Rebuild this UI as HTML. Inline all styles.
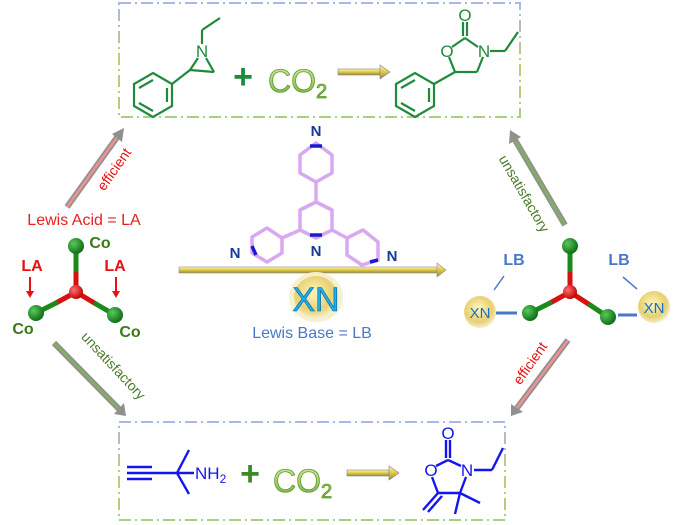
<!DOCTYPE html>
<html><head><meta charset="utf-8"><style>
html,body{margin:0;padding:0;background:#fff;}
svg{display:block;font-family:"Liberation Sans",Arial,sans-serif;}
</style></head><body>
<svg width="693" height="525" viewBox="0 0 693 525" xmlns="http://www.w3.org/2000/svg">
<defs>
<linearGradient id="bx" x1="0" y1="0" x2="0" y2="1"><stop offset="0" stop-color="#a9b6ec"/><stop offset="0.5" stop-color="#c8c878"/><stop offset="1" stop-color="#a8d080"/></linearGradient>
<linearGradient id="ya" x1="0" y1="0" x2="0" y2="1"><stop offset="0" stop-color="#fff8b0"/><stop offset="0.5" stop-color="#e0c840"/><stop offset="1" stop-color="#9a8a30"/></linearGradient>
<radialGradient id="xn" cx="0.45" cy="0.4" r="0.6"><stop offset="0" stop-color="#fff6c0"/><stop offset="0.7" stop-color="#e8d070"/><stop offset="1" stop-color="#f4eecc"/></radialGradient>
<radialGradient id="gb" cx="0.35" cy="0.35" r="0.7"><stop offset="0" stop-color="#5cc85c"/><stop offset="1" stop-color="#0a6a14"/></radialGradient>
<radialGradient id="rb" cx="0.35" cy="0.35" r="0.7"><stop offset="0" stop-color="#ff7070"/><stop offset="1" stop-color="#c00000"/></radialGradient>
<linearGradient id="co" x1="0" y1="0" x2="0" y2="1"><stop offset="0" stop-color="#d8f0a0"/><stop offset="1" stop-color="#6aa830"/></linearGradient>
</defs>

<rect x="119" y="3" width="401" height="114" fill="none" stroke="url(#bx)" stroke-width="2" stroke-dasharray="12,4,2,4"/>
<rect x="119" y="422" width="386" height="98" fill="none" stroke="url(#bx)" stroke-width="2" stroke-dasharray="12,4,2,4"/>

<!-- top reaction -->
<g stroke="#1f8a3c" stroke-width="2.2" fill="none">
<polygon points="153,73 172,84 172,106 153,117 134,106 134,84"/>
<line x1="139" y1="88" x2="153" y2="80"/><line x1="139" y1="103" x2="153" y2="111"/><line x1="167" y1="88" x2="167" y2="102"/>
<line x1="172" y1="84" x2="190" y2="70"/><line x1="190" y1="70" x2="214" y2="72"/>
<line x1="190" y1="70" x2="198" y2="58"/><line x1="214" y1="72" x2="206" y2="58"/>
<line x1="202" y1="44" x2="202" y2="30"/><line x1="202" y1="30" x2="220" y2="18"/>
<line x1="452" y1="47" x2="465" y2="38"/><line x1="465" y1="38" x2="478" y2="47"/>
<line x1="463" y1="36" x2="463" y2="22"/><line x1="467" y1="36" x2="467" y2="22"/>
<line x1="483" y1="57" x2="477" y2="72"/><line x1="477" y1="72" x2="455" y2="72"/><line x1="455" y1="72" x2="449" y2="57"/>
<line x1="490" y1="51" x2="505" y2="51"/><line x1="505" y1="51" x2="518" y2="32"/>
<line x1="455" y1="72" x2="434" y2="84"/>
<polygon points="434,84 434,106 415,117 396,106 396,84 415,73"/>
<line x1="401" y1="88" x2="415" y2="80"/><line x1="401" y1="103" x2="415" y2="111"/><line x1="429" y1="88" x2="429" y2="102"/>
</g>
<g fill="#1f8a3c" font-size="17" text-anchor="middle">
<text x="202" y="57">N</text><text x="447" y="57">O</text><text x="484" y="57">N</text><text x="465" y="21">O</text>
</g>
<text x="243" y="88" font-size="34" font-weight="bold" fill="#1f8a3c" text-anchor="middle">+</text>
<text x="268" y="92" font-size="32" fill="url(#co)" stroke="#5a9a2a" stroke-width="0.8">CO<tspan font-size="20" dy="6">2</tspan></text>
<rect x="338" y="69" width="42" height="6" fill="url(#ya)" stroke="#8080a0" stroke-width="0.6"/>
<polygon points="380,65 390,72 380,79" fill="url(#ya)" stroke="#8080a0" stroke-width="0.6"/>

<!-- bottom reaction -->
<g stroke="#1515f0" stroke-width="2.4" fill="none">
<line x1="127" y1="467" x2="152" y2="467"/><line x1="127" y1="473" x2="152" y2="473"/><line x1="127" y1="479" x2="152" y2="479"/>
<line x1="152" y1="473" x2="194" y2="473"/>
<line x1="177" y1="473" x2="189" y2="450"/><line x1="177" y1="473" x2="189" y2="494"/>
<line x1="436" y1="466" x2="448" y2="460"/><line x1="448" y1="460" x2="461" y2="466"/>
<line x1="446" y1="458" x2="446" y2="440"/><line x1="450" y1="458" x2="450" y2="440"/>
<line x1="474" y1="470" x2="492" y2="470"/><line x1="492" y1="470" x2="503" y2="448"/>
<line x1="466" y1="477" x2="460" y2="493"/><line x1="460" y1="493" x2="438" y2="493"/><line x1="438" y1="493" x2="432" y2="477"/>
<line x1="438" y1="493" x2="423" y2="510"/><line x1="442" y1="496" x2="428" y2="512"/>
<line x1="460" y1="493" x2="480" y2="503"/><line x1="460" y1="493" x2="455" y2="514"/>
</g>
<g fill="#1515f0" font-size="17" text-anchor="middle">
<text x="431" y="476">O</text><text x="467" y="476">N</text><text x="448" y="439">O</text>
</g>
<text x="195" y="479" font-size="17" fill="#1515f0">NH<tspan font-size="12" dy="4">2</tspan></text>
<text x="250" y="485" font-size="34" font-weight="bold" fill="#3a8a2a" text-anchor="middle">+</text>
<text x="273" y="492" font-size="32" fill="url(#co)" stroke="#5a9a2a" stroke-width="0.8">CO<tspan font-size="20" dy="6">2</tspan></text>
<rect x="347" y="470" width="42" height="6" fill="url(#ya)" stroke="#8080a0" stroke-width="0.6"/>
<polygon points="389,466 399,473 389,480" fill="url(#ya)" stroke="#8080a0" stroke-width="0.6"/>

<!-- terpyridine -->
<g stroke="#d8a8f0" stroke-width="3.5" fill="none" stroke-linejoin="round">
<polygon points="316,143 332,155 332,173 316,182 300,173 300,155"/>
<line x1="316" y1="182" x2="316" y2="202"/>
<polygon points="316,202 332,210 332,230 316,238 300,230 300,210"/>
<line x1="300" y1="230" x2="282" y2="238"/><line x1="332" y1="230" x2="347" y2="238"/>
<polygon points="282,238 282,253 267,262 252,253 252,237 267,228"/>
<polygon points="347,238 347,255 362,265 378,260 378,242 363,230"/>
</g>
<g stroke="#1a1ad0" stroke-width="3.5"><line x1="310" y1="146" x2="322" y2="146"/><line x1="310" y1="235" x2="322" y2="235"/><line x1="252" y1="246" x2="256" y2="255"/><line x1="370" y1="262" x2="378" y2="260"/></g>
<g fill="#1a3a9a" font-size="15" font-weight="bold" text-anchor="middle">
<text x="316" y="136">N</text><text x="316" y="256">N</text><text x="235" y="258">N</text><text x="392" y="261">N</text>
</g>
<rect x="179" y="267" width="258" height="6" fill="url(#ya)" stroke="#9090a0" stroke-width="0.6"/>
<polygon points="437,263 446,270 437,277" fill="url(#ya)" stroke="#9090a0" stroke-width="0.6"/>
<ellipse cx="316" cy="297" rx="27" ry="25" fill="#f6f0d0"/>
<ellipse cx="316" cy="297" rx="22" ry="21" fill="url(#xn)"/>
<text x="316" y="311" font-size="34" fill="#1ab0e8" stroke="#0a5a9a" stroke-width="0.6" text-anchor="middle">XN</text>
<text x="312" y="338" font-size="16" fill="#4a78c8" text-anchor="middle">Lewis Base = LB</text>

<!-- left cluster -->
<text x="84" y="225" font-size="16" fill="#e82020" text-anchor="middle">Lewis Acid = LA</text>
<g stroke-width="5" stroke-linecap="round">
<line x1="76" y1="292" x2="76" y2="270" stroke="#d81010"/><line x1="76" y1="270" x2="76" y2="247" stroke="#1a8a1a"/>
<line x1="76" y1="292" x2="56" y2="303" stroke="#d81010"/><line x1="56" y1="303" x2="36" y2="313" stroke="#1a8a1a"/>
<line x1="76" y1="292" x2="96" y2="304" stroke="#d81010"/><line x1="96" y1="304" x2="115" y2="315" stroke="#1a8a1a"/>
</g>
<circle cx="76" cy="292" r="7" fill="url(#rb)"/>
<circle cx="76" cy="246" r="8" fill="url(#gb)"/><circle cx="36" cy="313" r="8" fill="url(#gb)"/><circle cx="115" cy="315" r="8" fill="url(#gb)"/>
<g fill="#3a7a1a" font-size="16" font-weight="bold" text-anchor="middle">
<text x="100" y="248">Co</text><text x="23" y="334">Co</text><text x="130" y="337">Co</text>
</g>
<g fill="#e81010" font-size="16" font-weight="bold" text-anchor="middle"><text x="32" y="271">LA</text><text x="115" y="271">LA</text></g>
<g stroke="#e81010" stroke-width="2"><line x1="30" y1="277" x2="30" y2="292"/><line x1="116" y1="277" x2="116" y2="292"/></g>
<polygon points="26,291 34,291 30,298" fill="#e81010"/><polygon points="112,291 120,291 116,298" fill="#e81010"/>

<!-- right cluster -->
<g stroke-width="5" stroke-linecap="round">
<line x1="570" y1="292" x2="570" y2="270" stroke="#d81010"/><line x1="570" y1="270" x2="570" y2="247" stroke="#1a8a1a"/>
<line x1="570" y1="292" x2="550" y2="303" stroke="#d81010"/><line x1="550" y1="303" x2="530" y2="313" stroke="#1a8a1a"/>
<line x1="570" y1="292" x2="590" y2="305" stroke="#d81010"/><line x1="590" y1="305" x2="608" y2="317" stroke="#1a8a1a"/>
</g>
<circle cx="570" cy="292" r="7" fill="url(#rb)"/>
<circle cx="570" cy="246" r="8" fill="url(#gb)"/><circle cx="530" cy="313" r="8" fill="url(#gb)"/><circle cx="608" cy="317" r="8" fill="url(#gb)"/>
<g stroke="#4a78c8" stroke-width="3"><line x1="496" y1="313" x2="517" y2="313"/><line x1="618" y1="315" x2="637" y2="315"/></g>
<circle cx="480" cy="312" r="16" fill="url(#xn)"/><circle cx="654" cy="307" r="16" fill="url(#xn)"/>
<text x="480" y="318" font-size="15" fill="#1a70c0" text-anchor="middle">XN</text>
<text x="654" y="313" font-size="15" fill="#1a70c0" text-anchor="middle">XN</text>
<g fill="#4a78c8" font-size="16" font-weight="bold" text-anchor="middle"><text x="514" y="265">LB</text><text x="619" y="265">LB</text></g>
<g stroke="#4a78c8" stroke-width="1.5"><line x1="504" y1="276" x2="494" y2="290"/><line x1="623" y1="277" x2="637" y2="289"/></g>

<!-- diagonal arrows -->
<g stroke-width="6">
<line x1="67" y1="207" x2="118" y2="136" stroke="#909090"/><line x1="67" y1="207" x2="118" y2="136" stroke="#f09090" stroke-width="2.5"/>
<line x1="54" y1="343" x2="120" y2="410" stroke="#909090"/><line x1="54" y1="343" x2="120" y2="410" stroke="#80b060" stroke-width="2.5"/>
<line x1="565" y1="225" x2="515" y2="140" stroke="#909090"/><line x1="565" y1="225" x2="515" y2="140" stroke="#80b060" stroke-width="2.5"/>
<line x1="568" y1="340" x2="517" y2="408" stroke="#909090"/><line x1="568" y1="340" x2="517" y2="408" stroke="#f09090" stroke-width="2.5"/>
</g>
<polygon points="112,134 124,128 122,142" fill="#909090"/>
<polygon points="114,414 126,416 124,403" fill="#909090"/>
<polygon points="509,144 510,130 521,137" fill="#909090"/>
<polygon points="511,404 511,416 523,412" fill="#909090"/>
<text transform="translate(118,172) rotate(-55)" font-size="14" fill="#e81010" text-anchor="middle">efficient</text>
<text transform="translate(110,369) rotate(47)" font-size="14" fill="#4a7a2a" text-anchor="middle">unsatisfactory</text>
<text transform="translate(520,196) rotate(60)" font-size="14" fill="#4a7a2a" text-anchor="middle">unsatisfactory</text>
<text transform="translate(534,366) rotate(-55)" font-size="14" fill="#e81010" text-anchor="middle">efficient</text>
</svg>
</body></html>
